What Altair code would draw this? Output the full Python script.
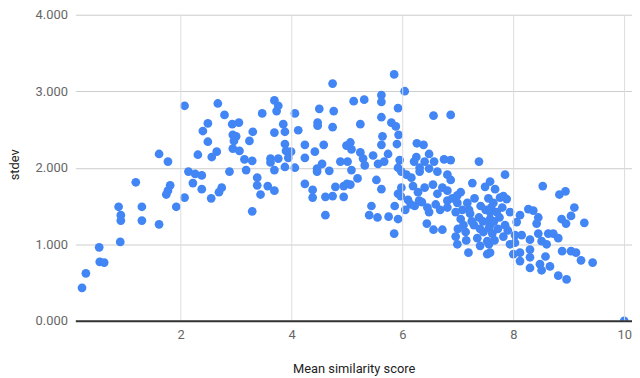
import altair as alt
import pandas as pd

mean_score = [
    0.22, 0.29, 0.53, 0.54, 0.62, 0.91, 0.88, 0.92, 0.92, 1.30, 1.30, 1.61, 1.74, 1.92, 2.07, 2.55,
    2.07, 2.67, 2.49, 2.40, 2.49, 1.61, 1.77, 2.31, 2.56, 2.14, 2.26, 2.38, 1.19, 1.81, 1.77, 2.22, 2.38,
    4.74, 3.69, 3.76, 3.73, 3.47, 2.79, 3.05, 2.93, 4.06, 4.50, 4.76, 5.12, 4.47, 4.47, 4.74, 3.85,
    3.88, 3.69, 3.30, 3.24, 4.12, 2.94, 3.00, 2.96, 2.94, 3.06, 2.65, 3.15, 3.29, 3.88, 3.90, 3.99,
    3.94, 3.62, 3.76, 4.24, 4.24, 4.42, 4.58, 4.99, 5.06, 5.08, 2.88, 3.18, 3.69, 3.88, 4.06, 3.38,
    3.38, 3.57, 3.69, 3.44, 2.74, 2.69, 4.24, 4.38, 4.46, 4.46, 4.55, 4.68, 4.88, 5.01, 5.08, 4.79,
    4.94, 5.00, 4.61, 4.74, 4.94, 4.38, 3.29, 4.61, 3.62,
    5.85, 6.04, 5.62, 5.62, 5.31, 5.92, 6.56, 6.87, 5.62, 5.24, 5.80, 5.88, 5.93, 5.64, 5.62, 5.90,
    6.26, 6.38, 6.48, 5.24, 5.29, 5.32, 5.47, 5.74, 5.67, 5.56, 5.95, 5.19, 5.53, 5.62, 5.06, 7.38,
    7.26, 7.49, 7.58,
    6.25, 6.21, 6.40, 6.31, 6.57, 6.75, 6.87, 5.92, 5.98, 6.07, 6.16, 6.31, 6.48, 6.63, 6.81, 6.87,
    5.98, 6.19, 6.40, 6.55, 6.72, 6.81, 5.92, 6.28, 7.05, 6.99, 6.63,
    5.44, 5.40, 5.55, 5.75, 5.92, 5.86, 5.85, 5.97, 6.22, 6.30, 6.45, 6.48, 6.44, 6.56, 6.72, 6.81,
    6.81, 6.96, 6.99, 7.17, 7.05, 6.99, 6.96, 7.19, 7.29, 7.38, 7.41, 7.53, 7.53, 7.46, 7.58, 7.58,
    7.22, 7.14, 7.35,
    6.90, 7.08, 7.25, 7.30, 7.45, 7.10, 7.00, 7.20, 7.40, 7.50, 7.55, 7.15, 7.40,
    6.10, 6.15, 6.35, 6.60, 6.68, 6.05,
    8.83, 8.94, 9.10, 9.04, 8.87, 8.95, 9.28, 8.27, 8.36, 8.45, 8.42, 8.12, 8.06, 7.94, 7.88, 7.76,
    7.64, 7.70, 7.58, 7.56, 7.62, 7.56, 7.58, 7.82, 7.94, 8.03, 8.15, 8.03, 8.00, 8.12, 8.12, 8.30,
    8.30, 8.30, 8.30, 8.45, 8.51, 8.60, 8.48, 8.51, 8.58, 8.66, 8.63, 8.72, 8.81, 8.81, 8.96, 8.88,
    9.04, 9.13, 9.22, 9.43, 10.0,
    7.85, 8.53, 7.67, 7.82,
    7.60, 7.65, 7.75, 7.85, 7.72, 7.66, 7.90, 7.80,
]

stdev = [
    0.43, 0.62, 0.96, 0.77, 0.76, 1.03, 1.49, 1.38, 1.31, 1.49, 1.31, 1.26, 1.65, 1.49, 1.61, 1.60,
    2.81, 2.84, 2.58, 2.48, 2.34, 2.18, 2.08, 2.17, 2.14, 1.95, 1.92, 1.90, 1.81, 1.77, 1.70, 1.80, 1.72,
    3.10, 2.88, 2.81, 2.74, 2.71, 2.69, 2.59, 2.57, 2.71, 2.77, 2.74, 2.87, 2.59, 2.55, 2.53, 2.57,
    2.47, 2.46, 2.47, 2.35, 2.49, 2.43, 2.41, 2.35, 2.25, 2.22, 2.21, 2.11, 2.09, 2.31, 2.22, 2.21,
    2.13, 2.12, 2.12, 2.30, 2.13, 2.21, 2.30, 2.29, 2.33, 2.24, 1.95, 1.97, 1.97, 2.01, 2.00, 1.87,
    1.77, 1.76, 1.70, 1.65, 1.74, 1.68, 1.79, 1.71, 1.99, 1.95, 2.05, 1.96, 2.08, 2.08, 1.97, 1.75,
    1.76, 1.79, 1.62, 1.63, 1.62, 1.61, 1.43, 1.38, 2.07,
    3.22, 3.00, 2.95, 2.86, 2.89, 2.78, 2.68, 2.69, 2.66, 2.57, 2.59, 2.54, 2.43, 2.41, 2.30, 2.31,
    2.32, 2.30, 2.18, 2.20, 2.12, 2.03, 2.16, 2.18, 2.08, 2.05, 2.10, 1.86, 1.84, 1.72, 1.78, 2.08,
    1.80, 1.75, 1.82,
    2.14, 2.08, 2.08, 2.00, 2.08, 2.11, 2.10, 2.00, 1.95, 1.91, 1.87, 1.95, 1.99, 1.95, 1.91, 1.84,
    1.74, 1.76, 1.74, 1.78, 1.74, 1.70, 1.66, 1.68, 1.68, 1.64, 1.66,
    1.50, 1.38, 1.35, 1.36, 1.33, 1.50, 1.14, 1.63, 1.50, 1.57, 1.48, 1.42, 1.27, 1.19, 1.19, 1.48,
    1.57, 1.42, 1.54, 1.54, 1.33, 1.00, 1.10, 0.89, 1.25, 1.35, 1.50, 1.04, 0.87, 1.16, 1.25, 1.42,
    1.40, 1.16, 1.08,
    1.60, 1.45, 1.30, 1.60, 1.30, 1.25, 1.20, 1.45, 1.20, 1.45, 1.60, 1.05, 0.98,
    1.58, 1.52, 1.55, 1.52, 1.45, 1.45,
    1.65, 1.69, 1.48, 1.37, 1.33, 1.27, 1.28, 1.46, 1.44, 1.35, 1.27, 1.38, 1.29, 1.42, 1.59, 1.61,
    1.54, 1.42, 1.33, 1.21, 1.14, 1.00, 0.89, 1.10, 1.00, 1.12, 1.12, 1.02, 0.87, 0.89, 0.78, 1.06,
    0.93, 0.83, 0.69, 1.14, 1.04, 1.00, 0.74, 0.66, 0.84, 0.71, 1.14, 1.14, 1.08, 0.59, 0.54, 0.91,
    0.91, 0.89, 0.79, 0.76, 0.0,
    1.91, 1.76, 1.72, 1.63,
    1.48, 1.30, 1.35, 1.25, 1.20, 1.05, 1.18, 1.48,
]

x_ticks = [2, 4, 6, 8, 10]
y_ticks = [0, 1, 2, 3, 4]

n = min(len(mean_score), len(stdev))
df = pd.DataFrame({"Mean similarity score": mean_score[:n], "stdev": stdev[:n]})

FONT = "Roboto"

chart = (
    alt.Chart(df)
    .mark_circle(size=78, color="#4285F4", opacity=1, clip=True)
    .encode(
        x=alt.X(
            "Mean similarity score:Q",
            scale=alt.Scale(domain=[0.1, 10.14], nice=False, zero=False),
            axis=alt.Axis(
                values=x_ticks,
                format="d",
                title="Mean similarity score",
                grid=True,
                gridColor="#dddddd",
                domain=True,
                domainColor="#333333",
                domainWidth=2,
                ticks=False,
                labelPadding=8,
                labelFont=FONT,
                labelFontSize=13,
                labelColor="#666666",
                titleFont=FONT,
                titleFontSize=13,
                titleFontWeight="normal",
                titleColor="#222222",
                titleY=48,
                titleBaseline="middle",
                zindex=1,
            ),
        ),
        y=alt.Y(
            "stdev:Q",
            scale=alt.Scale(domain=[0, 4], nice=False),
            axis=alt.Axis(
                values=y_ticks,
                format=".3f",
                title="stdev",
                grid=True,
                gridColor="#cccccc",
                domain=False,
                ticks=False,
                labelPadding=8,
                labelFont=FONT,
                labelFontSize=13,
                labelColor="#666666",
                titleFont=FONT,
                titleFontSize=13,
                titleFontWeight="normal",
                titleColor="#222222",
                titleX=-57,
                titleY=151,
                titleBaseline="alphabetic",
                titleAlign="center",
            ),
        ),
    )
    .properties(
        width=562,
        height=309,
        autosize=alt.AutoSizeParams(type="none"),
        padding={"left": 68, "top": 5, "right": 0, "bottom": 56},
    )
    .configure_view(stroke=None)
)

chart.save("out.html", embed_options={"renderer": "svg", "actions": False})
